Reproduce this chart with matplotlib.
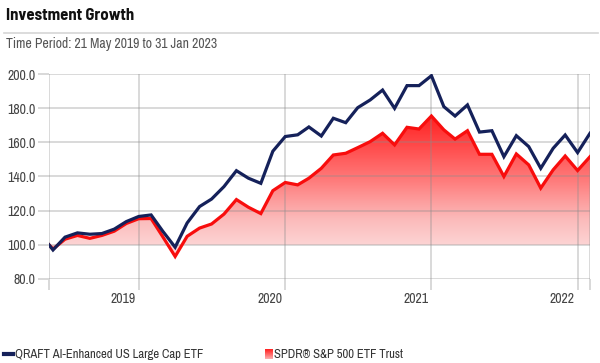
import numpy as np
import pandas as pd
import matplotlib
matplotlib.use("Agg")
import matplotlib.pyplot as plt
import matplotlib.dates as mdates
from matplotlib.colors import LinearSegmentedColormap
from matplotlib.lines import Line2D
from matplotlib.transforms import ScaledTranslation

plt.rcParams['font.family'] = ['Archivo Narrow', 'DejaVu Sans']

# growth of 100, start date then month ends
dates = [pd.Timestamp('2019-05-21')] + list(pd.date_range('2019-05-31', '2023-01-31', freq='ME'))
qraft = [100.0, 97.0, 104.5, 107.0, 106.2, 106.6, 109.2, 113.6, 116.6,
         117.5, 108.0, 98.6, 112.8, 122.4, 126.8, 134.1, 143.4, 139.0, 136.0, 154.8, 163.4,
         164.4, 169.0, 163.7, 174.1, 171.5, 180.3, 184.8, 190.6, 179.9, 193.2, 193.2, 199.0,
         180.9, 175.4, 181.9, 166.0, 166.8, 151.6, 163.9, 157.5, 144.8, 156.5, 164.3, 154.0,
         165.3]
spdr = [100.0, 97.5, 103.3, 105.5, 103.8, 105.5, 108.0, 112.5, 115.3,
        115.4, 104.8, 93.2, 105.0, 109.8, 112.2, 118.0, 126.5, 122.0, 118.3, 131.7, 136.5,
        135.1, 139.0, 144.8, 152.6, 153.6, 156.9, 160.4, 165.3, 158.5, 168.8, 167.8, 175.4,
        167.3, 161.9, 166.8, 153.0, 153.0, 140.0, 153.2, 146.8, 133.2, 143.9, 152.0, 143.5,
        151.6]
year_ends = pd.to_datetime(['2019-12-31', '2020-12-31', '2021-12-31', '2022-12-31'])
year_labels = ['2019', '2020', '2021', '2022']
yticks = [80, 100, 120, 140, 160, 180, 200]

navy = '#15215a'
red = '#f80d0d'

fig = plt.figure(figsize=(6, 3.63), dpi=100)
ax = fig.add_axes([49/600, 1-279/363, 541/600, 205/363])

x = mdates.date2num(dates)

# gradient fill under the S&P line, down to 100
cmap = LinearSegmentedColormap.from_list(
    'g', [(0, '#fdd3d3'), (0.2, '#fbbaba'), (0.5, '#ff7c7c'), (1, '#ff2222')])
levels = np.linspace(80, 200, 240)
grad = np.clip((levels - 100) / 75, 0, 1).reshape(-1, 1)
poly = ax.fill_between(x, 100, spdr, color='none', lw=0)
im = ax.imshow(grad, extent=[x[0], x[-1], 80, 200], aspect='auto', origin='lower',
               cmap=cmap, vmin=0, vmax=1, zorder=1)
im.set_clip_path(poly.get_paths()[0], transform=ax.transData)

ax.plot(x, qraft, color=navy, lw=2.3, zorder=4, solid_joinstyle='miter')
ax.plot(x, spdr, color=red, lw=2.3, zorder=3, solid_joinstyle='miter')

ax.set_xlim(x[0], x[-1])
ax.set_ylim(80, 200)

ax.set_yticks(yticks)
ax.set_yticklabels(['%.1f' % v for v in yticks])
ax.set_xticks(mdates.date2num(year_ends))
ax.set_xticklabels(year_labels)
ax.set_xticks([x[0], x[-1]], minor=True)

ax.set_axisbelow(False)
ax.grid(True, which='both', color='#8c8c8c', alpha=0.35, lw=1.3, zorder=2)
ax.tick_params(axis='both', which='both', length=8, width=1.3, color='#d6d6d6',
               labelsize=10, labelcolor='#444444', pad=1.5)
off = ScaledTranslation(-3/100, 0, fig.dpi_scale_trans)
for lab in ax.get_xticklabels():
    lab.set_ha('right')
    lab.set_transform(lab.get_transform() + off)
for s in ax.spines.values():
    s.set_visible(False)

# header
fig.text(6/600, 1-15/363, 'Investment Growth', fontsize=12, fontweight='bold',
         family=['Barlow Semi Condensed', 'DejaVu Sans'],
         color='#111111', va='center', ha='left')
fig.add_artist(Line2D([4/600, 598/600], [1-33/363, 1-33/363], color='#d5d5d5', lw=1.2))
fig.text(6/600, 1-44/363, 'Time Period: 21 May 2019 to 31 Jan 2023', fontsize=9.9,
         color='#555555', va='center', ha='left')

# legend
ly = 1-354/363
fig.add_artist(Line2D([4/600, 13/600], [ly, ly], color=navy, lw=3))
fig.text(15/600, ly, 'QRAFT AI-Enhanced US Large Cap ETF', fontsize=9.1, color='#333333',
         va='center', ha='left')
sq = fig.add_axes([265/600, 1-359/363, 8/600, 10/363])
sq.imshow(np.linspace(1, 0.25, 20).reshape(-1, 1), cmap=cmap, aspect='auto', vmin=0, vmax=1)
sq.axis('off')
fig.text(274/600, ly, 'SPDR® S&P 500 ETF Trust', fontsize=9.1, color='#333333',
         va='center', ha='left')

fig.savefig('out.png', dpi=100)
